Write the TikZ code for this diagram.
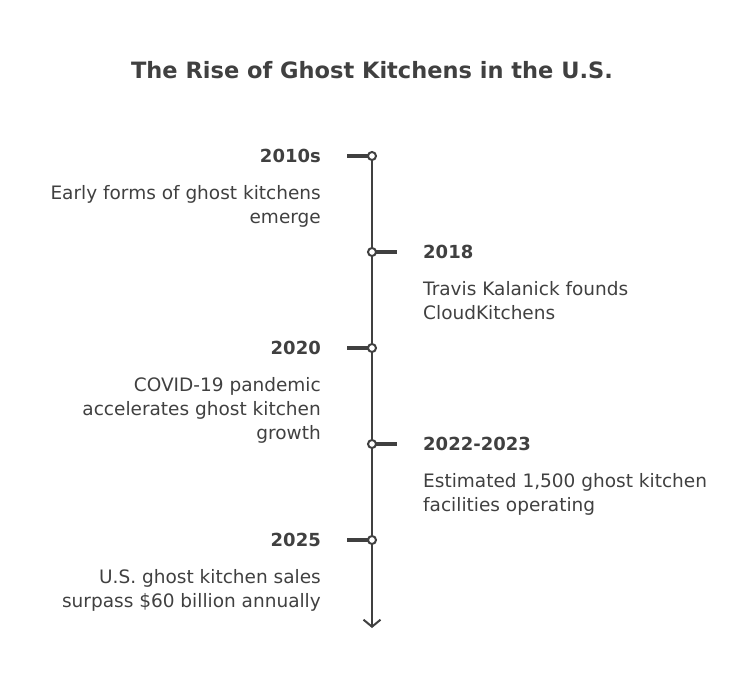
\documentclass[tikz,border=0pt]{standalone}
\usepackage{fontspec}
\setmainfont{DejaVu Sans}
\usepackage{tikz}
\usetikzlibrary{arrows.meta,positioning}
\definecolor{ink}{HTML}{404040}
\tikzset{
    %Define standard arrow tip
    >={Straight Barb[length=7pt,width=17pt,line width=2pt]},
    %Define style for the timeline dots
    dot/.style={
           circle,
           draw=ink, line width=2pt,
           fill=white,
           inner sep=0pt,
           minimum size=8pt},
    %Define style for the texts
    title/.style={
           font=\fontsize{22.5}{26}\selectfont\bfseries,
           text=ink},
    year/.style={
           font=\fontsize{18}{20}\selectfont\bfseries,
           text=ink,
           inner sep=0pt},
    desc/.style={
           font=\fontsize{18.5}{24}\selectfont,
           text=ink,
           inner sep=0pt},
    % Define line styles
    axis/.style={
           ->,
           draw=ink,
           line width=2.2pt},
    tick/.style={
           draw=ink,
           line width=4pt}
}
\begin{document}
\begin{tikzpicture}[x=1pt,y=-1pt]
\useasboundingbox (0,0) rectangle (756,677);
\node[title](title) at (372,70){The Rise of Ghost Kitchens in the U.S.};
\coordinate (p1) at (372,156);
\coordinate (p2) at (372,252);
\coordinate (p3) at (372,348);
\coordinate (p4) at (372,444);
\coordinate (p5) at (372,540);
\coordinate (end) at (372,628);
\coordinate (l1) at (347,156);
\coordinate (r2) at (397,252);
\coordinate (l3) at (347,348);
\coordinate (r4) at (397,444);
\coordinate (l5) at (347,540);
\draw[axis] (p1) -- (end);
\draw[tick] (p1) -- (l1);
\draw[tick] (p2) -- (r2);
\draw[tick] (p3) -- (l3);
\draw[tick] (p4) -- (r4);
\draw[tick] (p5) -- (l5);
\node[dot] (d1) at (p1) {};
\node[dot] (d2) at (p2) {};
\node[dot] (d3) at (p3) {};
\node[dot] (d4) at (p4) {};
\node[dot] (d5) at (p5) {};
% left side
\node[year, left=46pt of d1](y1){2010s};
\node[desc, align=right, below=29pt of y1.east, anchor=north east](t1){Early forms of ghost kitchens\\emerge};
\node[year, left=46pt of d3](y3){2020};
\node[desc, align=right, below=29pt of y3.east, anchor=north east](t3){COVID-19 pandemic\\accelerates ghost kitchen\\growth};
\node[year, left=46pt of d5](y5){2025};
\node[desc, align=right, below=29pt of y5.east, anchor=north east](t5){U.S. ghost kitchen sales\\surpass \$60 billion annually};
% right side
\node[year, right=46pt of d2](y2){2018};
\node[desc, align=left, below=29pt of y2.west, anchor=north west](t2){Travis Kalanick founds\\CloudKitchens};
\node[year, right=46pt of d4](y4){2022-2023};
\node[desc, align=left, below=29pt of y4.west, anchor=north west](t4){Estimated 1,500 ghost kitchen\\facilities operating};
\end{tikzpicture}
\end{document}
